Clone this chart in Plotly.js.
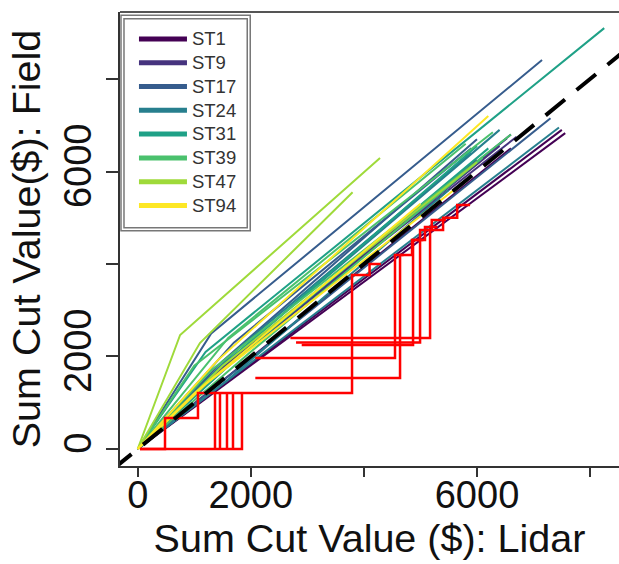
<!DOCTYPE html>
<html><head><meta charset="utf-8">
<script src="https://cdn.plot.ly/plotly-3.0.1.min.js"></script>
<style>html,body{margin:0;padding:0;background:#fff;overflow:hidden}</style>
</head><body>
<div id="chart" style="width:619px;height:564px"></div>
<script>
// ---- data (Sum cut value, $) ----
const stands = ['ST1','ST9','ST17','ST24','ST31','ST39','ST47','ST94'];

const ST1_lidar  = [[0, 7500], [0, 7560], [0, 6600]];
const ST1_field  = [[0, 6900], [0, 6830], [0, 6500]];
const ST9_lidar  = [[0, 1000, 6700], [0, 1200, 6530], [0, 900, 6400], [0, 1500, 6000], [0, 1100, 6600]];
const ST9_field  = [[0, 1300, 6750], [0, 1400, 6720], [0, 1100, 6550], [0, 1700, 6250], [0, 1350, 6800]];
const ST17_lidar = [[0, 1300, 7150], [0, 1500, 6000], [0, 7300], [0, 1700, 5900]];
const ST17_field = [[0, 2500, 8410], [0, 1900, 6700], [0, 7150], [0, 2300, 6500]];
const ST24_lidar = [[0, 1400, 6400], [0, 7450], [0, 1600, 5500], [0, 1800, 5900]];
const ST24_field = [[0, 1700, 6900], [0, 6950], [0, 1500, 5600], [0, 2200, 6400]];
const ST31_lidar = [[0, 1200, 8250], [0, 1500, 6000], [0, 1700, 6200]];
const ST31_field = [[0, 2100, 9100], [0, 1800, 6550], [0, 1900, 6500]];
const ST39_lidar = [[0, 1000, 6280], [0, 1300, 6600], [0, 2000, 6100], [0, 1600, 5800]];
const ST39_field = [[0, 1800, 6850], [0, 1700, 6800], [0, 2100, 6300], [0, 2400, 6600]];
const ST47_lidar = [[0, 750, 4285], [0, 1100, 3800], [0, 1500, 6000]];
const ST47_field = [[0, 2465, 6292], [0, 2290, 5550], [0, 1800, 6200]];
const ST94_lidar = [[0, 1200, 5800], [0, 1000, 5000], [0, 1400, 6200]];
const ST94_field = [[0, 1400, 5800], [0, 1200, 5300], [0, 1900, 7200]];

// red step series
const red_lidar = [
  [40, 1844, 1844, 1685, 1685, 1579, 1579, 1455, 1455, 1367, 1367, 3790, 3790, 4100, 4100, 4300],
  [40, 483, 483, 1066, 1066, 1367],
  [2080, 4639, 4639, 4851, 4851, 5050],
  [2080, 4550, 4550, 4700],
  [2700, 5170, 5170, 5400, 5400, 5650, 5650, 5878],
  [2800, 4993, 4993, 5200, 5200, 5450],
  [2900, 4869, 4869, 5080, 5080, 5300]
];
const red_field = [
  [0, 0, 1211, 1211, 0, 0, 1211, 1211, 0, 0, 1211, 1211, 3762, 3762, 4000, 4000],
  [0, 0, 670, 670, 1211, 1211],
  [1535, 1535, 4195, 4195, 4519, 4519],
  [1968, 1968, 4195, 4195],
  [2400, 2400, 4735, 4735, 5000, 5000, 5276, 5276],
  [2300, 2300, 4735, 4735, 4950, 4950],
  [2250, 2250, 4519, 4519, 4800, 4800]
];

// 1:1 reference
const ref_lidar = [-1000, 10000];
const ref_field = [-1000, 10000];

const xTickVals = [0, 2000, 4000, 6000, 8000];
const xTickText = ['0', '2000', '', '6000', ''];
const yTickVals = [0, 2000, 4000, 6000, 8000];
const yTickText = ['0', '2000', '', '6000', ''];

// ---- styles ----
const standColors = ['#440154','#46337E','#365C8D','#277F8E','#1FA187','#4AC16D','#9FDA3A','#FDE725'];
const lidarByStand = [ST1_lidar, ST9_lidar, ST17_lidar, ST24_lidar, ST31_lidar, ST39_lidar, ST47_lidar, ST94_lidar];
const fieldByStand = [ST1_field, ST9_field, ST17_field, ST24_field, ST31_field, ST39_field, ST47_field, ST94_field];
const FONT = 'Liberation Sans, Arial, Helvetica, sans-serif';

const traces = [];
stands.forEach((s, i) => {
  lidarByStand[i].forEach((xs, j) => {
    traces.push({type: 'scatter', mode: 'lines', x: xs, y: fieldByStand[i][j],
      line: {color: standColors[i], width: 2}, showlegend: false, hoverinfo: 'skip'});
  });
});
red_lidar.forEach((xs, j) => {
  traces.push({type: 'scatter', mode: 'lines', x: xs, y: red_field[j],
    line: {color: '#FF0000', width: 2.5}, showlegend: false, hoverinfo: 'skip'});
});
traces.push({type: 'scatter', mode: 'lines', x: ref_lidar, y: ref_field,
  line: {color: '#000000', width: 4, dash: '25px,15px'}, showlegend: false, hoverinfo: 'skip'});
// legend entries
stands.forEach((s, i) => {
  traces.push({type: 'scatter', mode: 'lines', x: [null], y: [null],
    name: '<span style="font-size:18.5px">' + s + '</span>',
    line: {color: standColors[i], width: 5}, showlegend: true});
});

const layout = {
  width: 619, height: 564,
  margin: {l: 120, r: 0, t: 12, b: 98},
  paper_bgcolor: '#fff', plot_bgcolor: '#fff',
  font: {family: FONT, color: '#111'},
  xaxis: {range: [-313, 8511], tickmode: 'array', tickvals: xTickVals, ticktext: xTickText,
    ticks: 'outside', ticklen: 9, tickwidth: 2, tickcolor: '#333', showgrid: false, zeroline: false,
    showline: true, linecolor: '#333', linewidth: 2, ticklabelstandoff: -15,
    tickfont: {family: FONT, size: 38, color: '#111'},
    title: {text: 'Sum Cut Value ($): Lidar', font: {family: FONT, size: 39.5, color: '#111'}, standoff: 4}},
  yaxis: {range: [-368, 9449], tickmode: 'array', tickvals: yTickVals, ticktext: yTickText,
    ticks: 'outside', ticklen: 12, tickwidth: 2, tickcolor: '#333', showgrid: false, zeroline: false,
    showline: true, linecolor: '#333', linewidth: 2, tickangle: -90,
    tickfont: {family: FONT, size: 38, color: '#111'},
    title: {text: 'Sum Cut Value($): Field', font: {family: FONT, size: 39.5, color: '#111'}, standoff: 4}},
  showlegend: true,
  legend: {x: 0.028, y: 0.978, xanchor: 'left', yanchor: 'top', bgcolor: 'rgba(0,0,0,0)', borderwidth: 0,
    font: {family: FONT, size: 16, color: '#333'}, itemwidth: 48, tracegroupgap: 0},
  shapes: [
    {type: 'line', xref: 'paper', yref: 'paper', x0: 0, x1: 1, y0: 1, y1: 1, line: {color: '#555', width: 2}},
    {type: 'rect', xref: 'paper', yref: 'paper', x0: 0.002, x1: 0.261, y0: 0.518, y1: 0.993,
      line: {color: '#777', width: 1.5}, fillcolor: '#fff', layer: 'below'},
    {type: 'rect', xref: 'paper', yref: 'paper', x0: 0.008, x1: 0.255, y0: 0.525, y1: 0.985,
      line: {color: '#777', width: 1.5}, layer: 'below'}
  ]
};
Plotly.newPlot('chart', traces, layout, {displayModeBar: false, staticPlot: true});
</script>
</body></html>
